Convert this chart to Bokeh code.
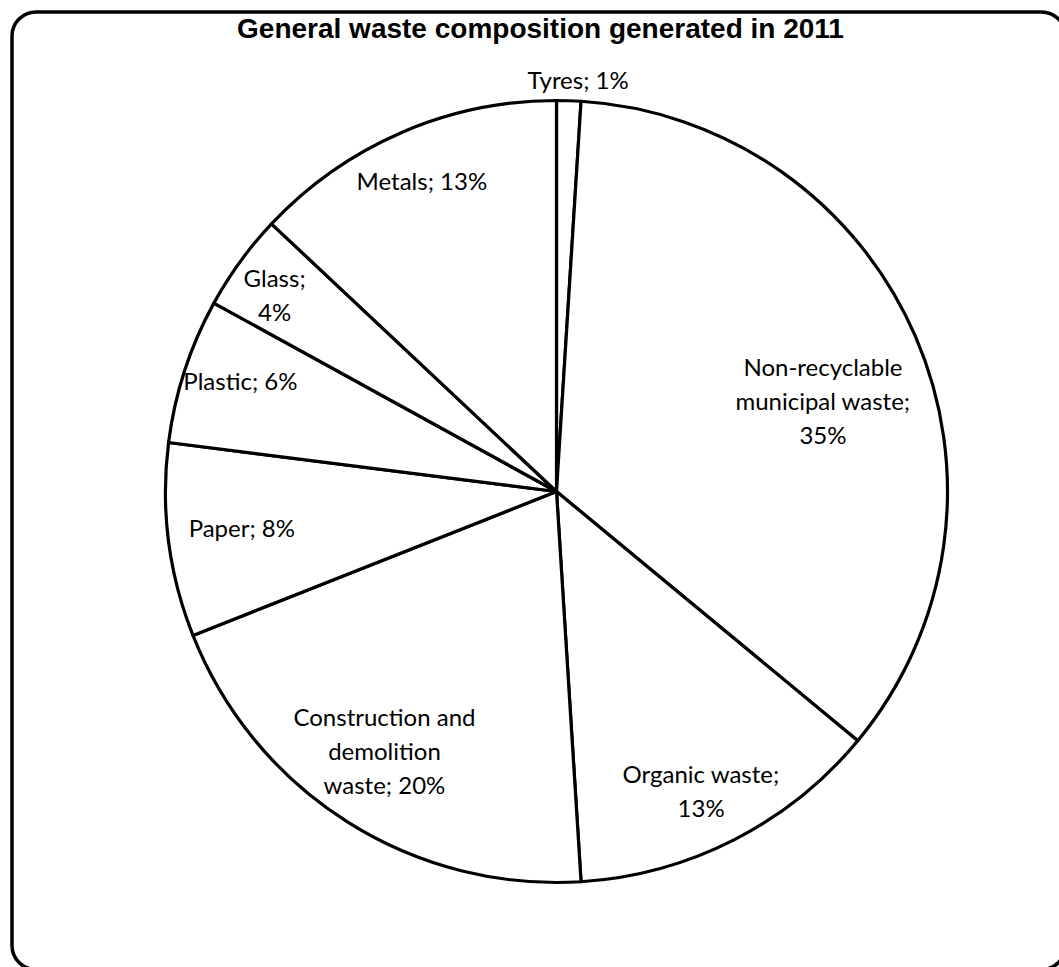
import math
from bokeh.plotting import figure
from bokeh.models import Range1d, BoxAnnotation, ColumnDataSource
from bokeh.core.properties import value
from bokeh.embed import file_html
from bokeh.resources import INLINE

# ---- data ----
categories = ["Tyres", "Non-recyclable\nmunicipal waste", "Organic waste",
              "Construction and\ndemolition\nwaste", "Paper", "Plastic", "Glass", "Metals"]
shares = [1, 35, 13, 20, 8, 6, 4, 13]
label_sep = ["; ", ";\n", ";\n", "; ", "; ", "; ", ";\n", "; "]
title_text = "General waste composition generated in 2011"

# ---- layout (pixels) ----
W, H = 1059, 967
cx_px, cy_px, R = 556, 491, 391
cx, cy = cx_px, H - cy_px
label_r = [1.055, 0.72, 0.85, 0.795, 0.81, 0.857, 0.88, 0.867]
label_shift_deg = [1.2, 4.6, 1.2, 1.2, 0.7, 1.4, -1.0, 0.0]

p = figure(width=W, height=H, x_range=Range1d(0, W), y_range=Range1d(0, H),
           output_backend="svg", toolbar_location=None, min_border=0)
p.axis.visible = False
p.grid.visible = False
p.outline_line_color = None
p.background_fill_color = "white"

total = sum(shares)
starts, ends, lx, ly, texts = [], [], [], [], []
cum = 0.0
for i, s in enumerate(shares):
    a0 = cum / total
    cum += s
    a1 = cum / total
    starts.append(math.pi / 2 - 2 * math.pi * a0)
    ends.append(math.pi / 2 - 2 * math.pi * a1)
    mid_deg = (a0 + a1) / 2 * 360 + label_shift_deg[i]
    m = math.radians(mid_deg)
    r = label_r[i] * R
    lx.append(cx + r * math.sin(m))
    ly.append(cy + r * math.cos(m))
    texts.append(f"{categories[i]}{label_sep[i]}{s}%")

src = ColumnDataSource(dict(x=[cx] * len(shares), y=[cy] * len(shares),
                            start=starts, end=ends))
p.wedge(x="x", y="y", radius=R, start_angle="start", end_angle="end",
        direction="clock", source=src, fill_color="white",
        line_color="black", line_width=3.2, line_join="round")

p.text(x=lx, y=ly, text=texts, text_font=value("Lato"), text_font_size="24px",
       text_align="center", text_baseline="middle", text_color="black",
       text_line_height=1.18)

p.text(x=[540], y=[H - 28], text=[title_text], text_font=value("Liberation Sans"),
       text_font_style="bold", text_font_size="28px", text_align="center",
       text_baseline="middle", text_color="black")

border = BoxAnnotation(left=11.5, right=1065, top=H - 11.5, bottom=-2,
                       fill_alpha=0, line_color="black", line_alpha=1.0,
                       line_width=3.5, border_radius=24)
p.add_layout(border)

open("out.html", "w").write(file_html(p, INLINE))
